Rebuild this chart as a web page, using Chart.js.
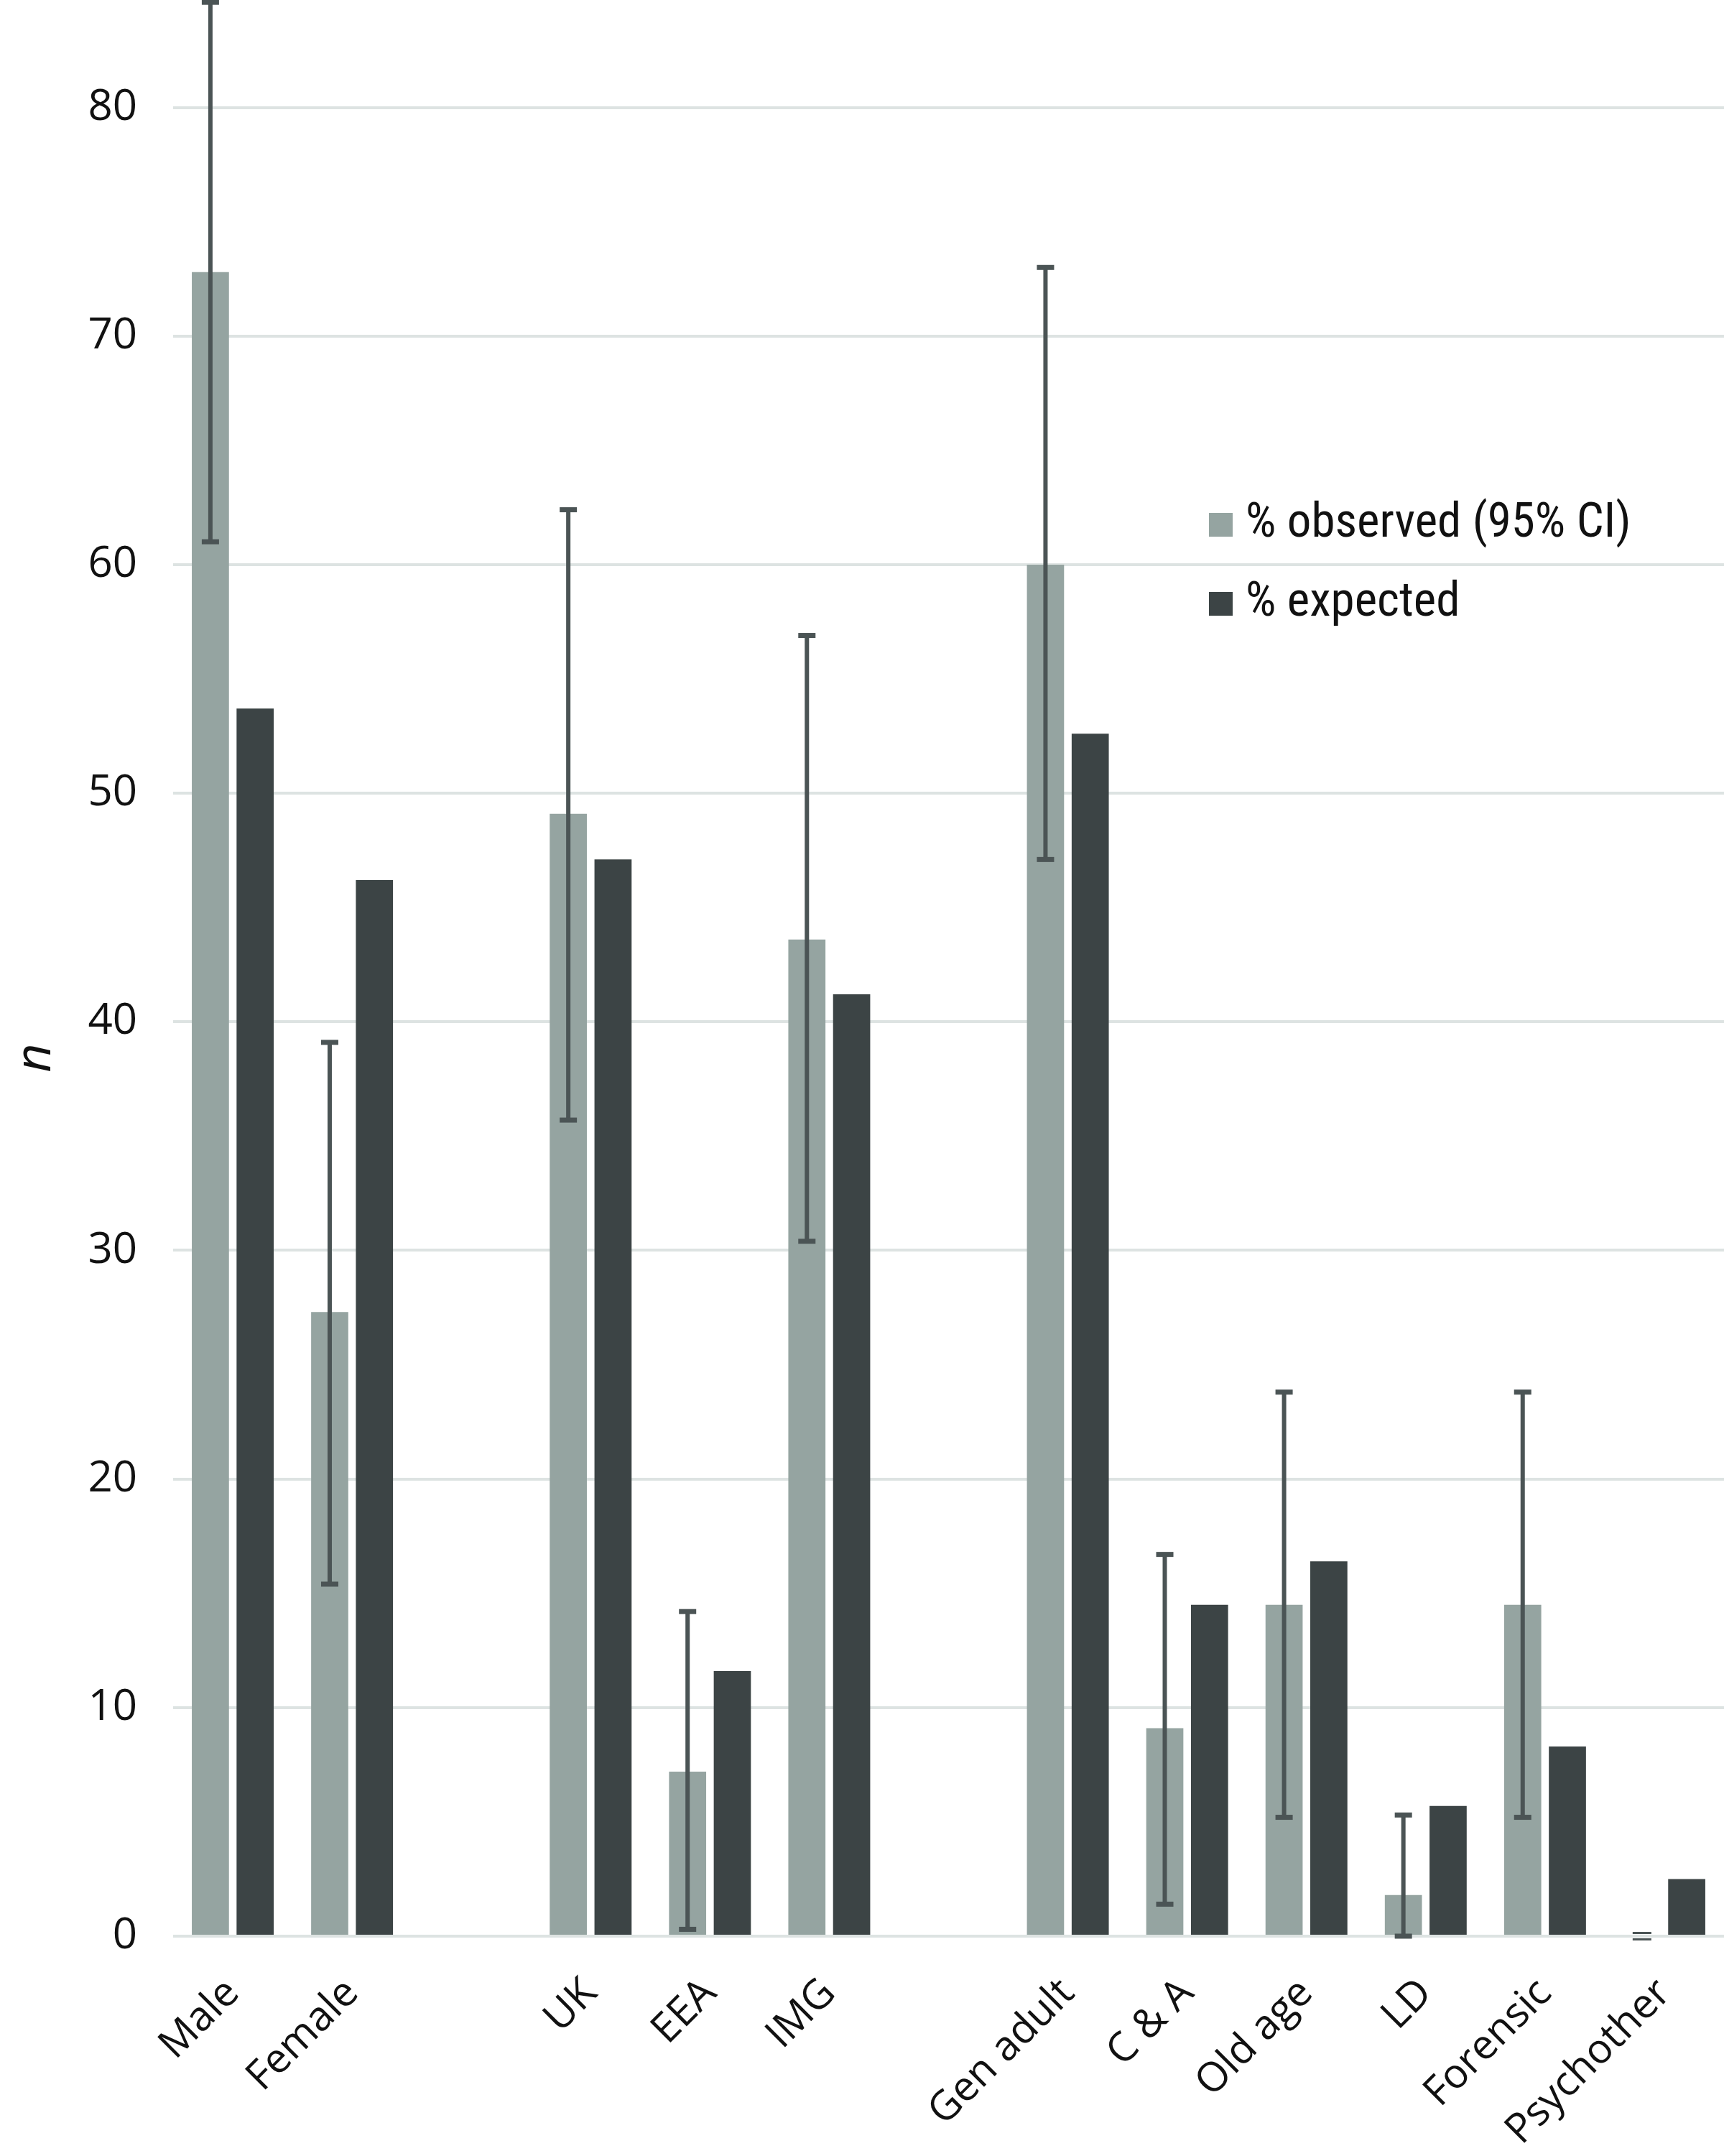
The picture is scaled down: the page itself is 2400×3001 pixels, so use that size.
<!DOCTYPE html>
<html><head><meta charset="utf-8">
<script src="https://cdn.jsdelivr.net/npm/chart.js@4/dist/chart.umd.min.js"></script>
<style>html,body{margin:0;padding:0;background:#fff}#wrap{width:2400px;height:3001px;position:relative}</style>
</head><body><div id="wrap"><canvas id="c" width="2400" height="3001"></canvas></div>
<script>
const categories = ['Male','Female','','UK','EEA','IMG','','Gen adult','C & A','Old age','LD','Forensic','Psychother'];
const observed   = [72.8, 27.3, null, 49.1, 7.2, 43.6, null, 60.0, 9.1, 14.5, 1.8, 14.5, 0];
const expected   = [53.7, 46.2, null, 47.1, 11.6, 41.2, null, 52.6, 14.5, 16.4, 5.7, 8.3, 2.5];
const ciLow      = [61.0, 15.4, null, 35.7, 0.3, 30.4, null, 47.1, 1.4, 5.2, 0.0, 5.2, 0];
const ciHigh     = [84.6, 39.1, null, 62.4, 14.2, 56.9, null, 73.0, 16.7, 23.8, 5.3, 23.8, 0];
const yTickValues = [0, 10, 20, 30, 40, 50, 60, 70, 80];
const seriesNames = ['% observed (95% CI)', '% expected'];
const yTitle = 'n';

const obsColor = '#95a4a1';
const expColor = '#3c4445';
const barColor = '#4b5455';

const errorBars = {
  id: 'errorBars',
  afterDatasetsDraw(chart) {
    const meta = chart.getDatasetMeta(0);
    const y = chart.scales.y;
    const ctx = chart.ctx;
    ctx.save();
    ctx.strokeStyle = barColor; ctx.fillStyle = barColor;
    meta.data.forEach((bar, i) => {
      if (ciLow[i] == null || observed[i] == null) return;
      const x = bar.x;
      const yl = y.getPixelForValue(ciLow[i]);
      const yh = y.getPixelForValue(ciHigh[i]);
      ctx.lineWidth = 6;
      ctx.beginPath(); ctx.moveTo(x, yl); ctx.lineTo(x, yh); ctx.stroke();
      if (ciLow[i] === ciHigh[i]) {
        ctx.fillRect(x - 13, yh - 6, 26, 3);
        ctx.fillRect(x - 13, yh + 3, 26, 3);
      } else {
        ctx.fillRect(x - 12, yh - 3.5, 24, 7);
        ctx.fillRect(x - 12, yl - 3.5, 24, 7);
      }
    });
    ctx.restore();
  }
};

const legendBox = {
  id: 'legendBox',
  afterDraw(chart) {
    const ctx = chart.ctx;
    const colors = [obsColor, expColor];
    const x0 = 1683, ys = [730, 840];
    ctx.save();
    ctx.font = '67px "Liberation Sans Narrow", "Roboto Condensed", sans-serif';
    ctx.textBaseline = 'middle';
    ctx.textAlign = 'left';
    seriesNames.forEach((name, i) => {
      ctx.fillStyle = colors[i];
      ctx.fillRect(x0, ys[i] - 16, 33, 33);
      ctx.fillStyle = '#111';
      ctx.fillText(name, x0 + 51, ys[i]);
    });
    ctx.restore();
  }
};

const yTitlePlugin = {
  id: 'yTitlePlugin',
  afterDraw(chart) {
    const ctx = chart.ctx;
    const a = chart.chartArea;
    ctx.save();
    ctx.translate(50, (a.top + a.bottom) / 2 + 125);
    ctx.rotate(-Math.PI / 2);
    ctx.font = 'italic 70px "Open Sans", sans-serif';
    ctx.fillStyle = '#111';
    ctx.textAlign = 'center';
    ctx.textBaseline = 'middle';
    ctx.fillText(yTitle, 0, 0);
    ctx.restore();
  }
};

new Chart(document.getElementById('c'), {
  type: 'bar',
  data: {
    labels: categories,
    datasets: [
      { label: seriesNames[0], data: observed, backgroundColor: obsColor },
      { label: seriesNames[1], data: expected, backgroundColor: expColor }
    ]
  },
  options: {
    responsive: false,
    animation: false,
    devicePixelRatio: 1,
    layout: { padding: 0 },
    categoryPercentage: 0.75,
    barPercentage: 0.83,
    plugins: { legend: { display: false }, tooltip: { enabled: false } },
    scales: {
      x: {
        grid: { display: false, drawTicks: false },
        border: { display: false },
        ticks: {
          autoSkip: false, maxRotation: 45, minRotation: 45, padding: 46,
          color: '#111',
          font: { family: '"Open Sans", sans-serif', size: 57 }
        },
        afterFit(s) { s.height = 306; s.paddingLeft = 0; s.paddingRight = 0; }
      },
      y: {
        min: 0, max: 84.7,
        afterBuildTicks(s) { s.ticks = yTickValues.map(v => ({ value: v })); },
        grid: { color: '#dde3e2', lineWidth: 4, drawTicks: false },
        border: { display: false },
        ticks: {
          padding: 50, color: '#111',
          font: { family: '"Open Sans", sans-serif', size: 60 }
        },
        title: { display: false },
        afterFit(s) { s.width = 241; s.paddingTop = 0; s.paddingBottom = 0; }
      }
    }
  },
  plugins: [errorBars, legendBox, yTitlePlugin]
});
</script>
</body></html>
